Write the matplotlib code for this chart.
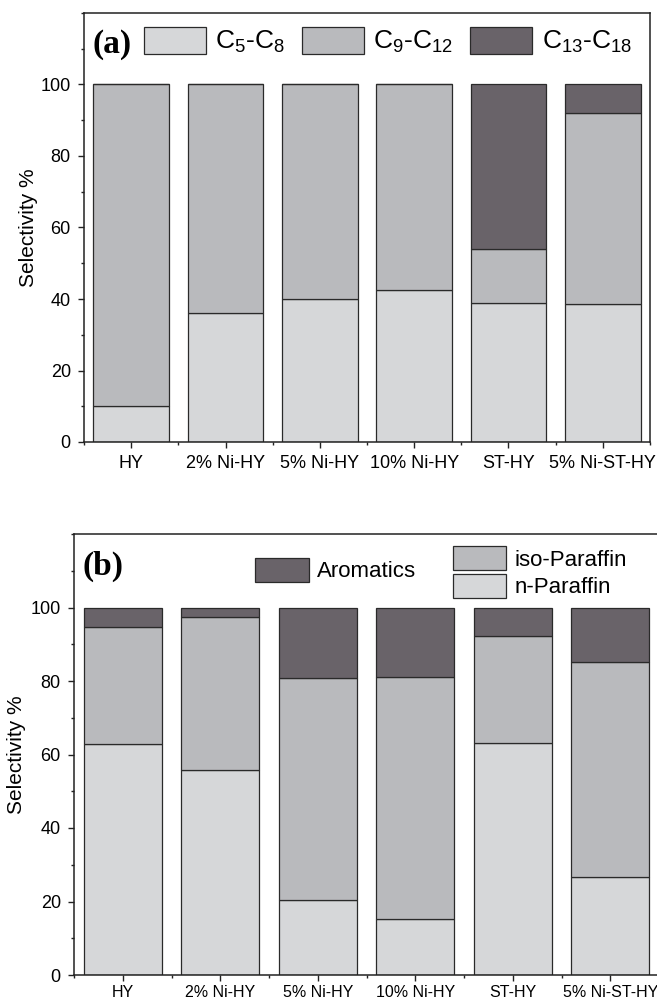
import numpy as np
import matplotlib
matplotlib.use('Agg')
import matplotlib.pyplot as plt
from matplotlib.patches import Patch
from matplotlib.ticker import MultipleLocator

plt.rcParams['font.family'] = ['Liberation Sans', 'DejaVu Sans']
plt.rcParams['mathtext.fontset'] = 'custom'
plt.rcParams['mathtext.rm'] = 'Liberation Sans'
plt.rcParams['mathtext.it'] = 'Liberation Sans'

catalysts = ['HY', '2% Ni-HY', '5% Ni-HY', '10% Ni-HY', 'ST-HY', '5% Ni-ST-HY']

# panel (a): carbon number distribution
c5_c8 = [10.0, 36.0, 39.9, 42.4, 39.0, 38.5]
c9_c12 = [90.0, 64.0, 60.1, 57.6, 14.9, 53.6]
c13_c18 = [0.0, 0.0, 0.0, 0.0, 46.1, 7.9]

# panel (b): hydrocarbon type
n_paraffin = [62.8, 55.7, 20.3, 15.3, 63.0, 26.8]
iso_paraffin = [32.0, 41.8, 60.6, 65.8, 29.3, 58.4]
aromatics = [5.2, 2.5, 19.1, 18.9, 7.7, 14.8]

LIGHT = '#d6d7d9'
MID = '#b9babd'
DARK = '#696369'
EDGE = '#2a2a2a'

W, H = 657, 1006
fig = plt.figure(figsize=(W / 100, H / 100), dpi=100)


def px_axes(left, top, right, bottom):
    return fig.add_axes([left / W, 1 - bottom / H, (right - left) / W, (bottom - top) / H])


ax_a = px_axes(84, 13, 650, 442)
ax_b = px_axes(74, 534, 659, 975)

x = np.arange(1, len(catalysts) + 1)


def style_axes(ax, xpad, xsize, ylpad):
    ax.set_xlim(0.5, 6.5)
    ax.set_ylim(0, 120)
    ax.set_xticks(x)
    ax.set_xticklabels(catalysts, fontsize=xsize)
    ax.xaxis.set_minor_locator(MultipleLocator(1.0, offset=0.5))
    ax.set_yticks([0, 20, 40, 60, 80, 100])
    ax.yaxis.set_minor_locator(MultipleLocator(10))
    ax.tick_params(axis='both', which='major', direction='out', length=4.5,
                   width=1, pad=5, color='#222222')
    ax.tick_params(axis='y', which='major', labelsize=13)
    ax.tick_params(axis='both', which='minor', direction='out', length=2.5,
                   width=1, color='#222222')
    ax.tick_params(axis='x', which='major', pad=xpad)
    for s in ax.spines.values():
        s.set_linewidth(1.1)
        s.set_color('#222222')
    ax.set_ylabel('Selectivity %', fontsize=15, labelpad=ylpad)


kw = dict(width=0.8, edgecolor=EDGE, linewidth=0.9)

# (a)
ax_a.bar(x, c5_c8, color=LIGHT, **kw)
ax_a.bar(x, c9_c12, bottom=c5_c8, color=MID, **kw)
bot = np.array(c5_c8) + np.array(c9_c12)
ax_a.bar(x, c13_c18, bottom=bot, color=DARK, **kw)
style_axes(ax_a, 5, 13, 2)
ax_a.text(0.59, 111.3, '(a)', fontsize=24, fontweight='bold', family='Liberation Serif',
          va='center', ha='left')
handles_a = [Patch(facecolor=LIGHT, edgecolor=EDGE, lw=0.9, label=r'C$_5$-C$_8$'),
             Patch(facecolor=MID, edgecolor=EDGE, lw=0.9, label=r'C$_9$-C$_{12}$'),
             Patch(facecolor=DARK, edgecolor=EDGE, lw=0.9, label=r'C$_{13}$-C$_{18}$')]
ax_a.legend(handles=handles_a, ncol=3, loc='center left', bbox_to_anchor=(0.106, 0.935),
            frameon=False, fontsize=19, handlelength=2.35, handleheight=1.2,
            handletextpad=0.35, columnspacing=0.65, borderaxespad=0, borderpad=0)

# (b)
ax_b.bar(x, n_paraffin, color=LIGHT, **kw)
ax_b.bar(x, iso_paraffin, bottom=n_paraffin, color=MID, **kw)
bot_b = np.array(n_paraffin) + np.array(iso_paraffin)
ax_b.bar(x, aromatics, bottom=bot_b, color=DARK, **kw)
style_axes(ax_b, 2.5, 11.5, 3)
ax_b.text(0.59, 111.3, '(b)', fontsize=24, fontweight='bold', family='Liberation Serif',
          va='center', ha='left')
leg1 = ax_b.legend(handles=[Patch(facecolor=DARK, edgecolor=EDGE, lw=0.9, label='Aromatics')],
                   loc='center left', bbox_to_anchor=(0.31, 0.918), frameon=False,
                   fontsize=16, handlelength=2.4, handleheight=1.25, handletextpad=0.35,
                   borderaxespad=0, borderpad=0)
ax_b.add_artist(leg1)
ax_b.legend(handles=[Patch(facecolor=MID, edgecolor=EDGE, lw=0.9, label='iso-Paraffin'),
                     Patch(facecolor=LIGHT, edgecolor=EDGE, lw=0.9, label='n-Paraffin')],
            loc='center left', bbox_to_anchor=(0.648, 0.913), frameon=False,
            fontsize=16, handlelength=2.4, handleheight=1.25, handletextpad=0.35,
            labelspacing=0.15, borderaxespad=0, borderpad=0)

fig.savefig('out.png', dpi=100)
